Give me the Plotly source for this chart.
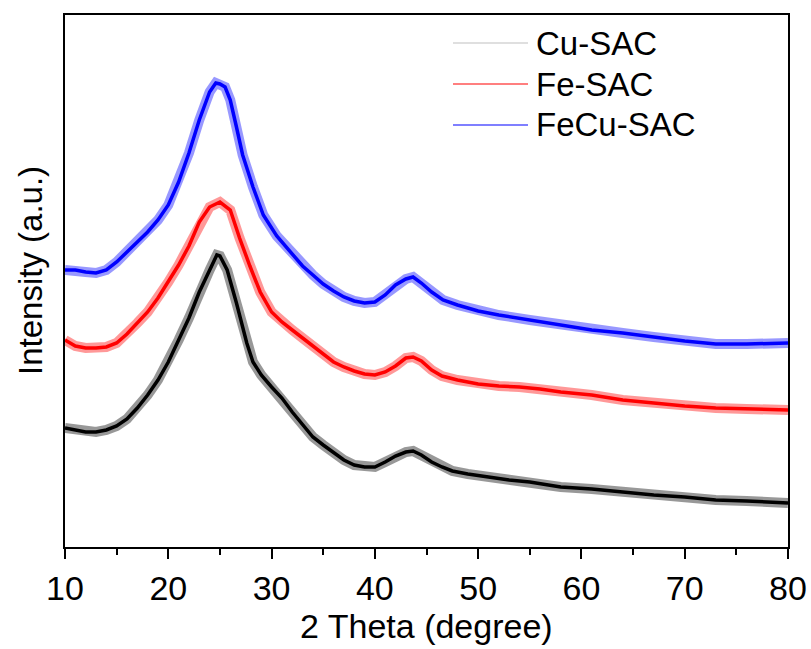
import plotly.graph_objects as go

# ---- data (2θ in degrees, intensity in a.u.) ----
cu_x = [10, 11, 12, 13, 14, 15, 16, 17, 18, 19, 20, 21, 22, 23, 24, 24.7, 25, 25.7, 26.6, 27.6,
        28.2, 29, 30, 31, 32, 33, 34, 35, 36, 37, 38, 39, 40, 41, 42, 43, 43.7, 44.5, 45.5, 46.5,
        47.5, 49, 51, 53, 55, 58, 61, 64, 67, 70, 73, 76, 80]
cu_y = [119, 117, 115, 115, 117, 121, 128, 139, 152, 167, 185, 207, 229, 255, 277, 292, 291, 277, 244, 204,
        185, 172, 160, 149, 135, 122, 110, 102, 94, 87, 82, 80, 80, 85, 91, 95, 96, 92, 85, 80,
        76, 73, 70, 67, 65, 60, 58, 55, 52, 50, 47, 46, 44]

fe_x = [10, 11, 12, 13, 14, 15, 16, 17, 18, 19, 20, 21, 22, 23, 24, 25, 26, 26.9, 27.9, 28.9,
        30, 31, 32, 33, 34, 35, 36, 37, 38, 39, 40, 41, 42, 43, 43.7, 44.5, 45.5, 46.5, 48, 50,
        52, 54, 56, 58, 61, 64, 67, 70, 73, 76, 80]
fe_y = [207, 201, 199, 199, 200, 204, 213, 224, 235, 249, 265, 282, 301, 325, 340, 345, 337, 309, 281, 255,
        235, 225, 217, 209, 200, 192, 185, 180, 176, 173, 172, 175, 181, 189, 190, 186, 177, 171, 167, 163,
        161, 160, 158, 155, 152, 147, 144, 141, 139, 138, 137]

fecu_x = [10, 11, 12, 13, 14, 15, 16, 17, 18, 19, 20, 21, 22, 23, 24, 24.6, 25, 25.5, 26, 26.6,
          27.2, 28.2, 29.2, 30.5, 32, 33, 34, 35, 36, 37, 38, 39, 40, 41, 42, 43, 43.7, 44.5, 45.5, 46.6,
          48, 50, 52, 55, 58, 61, 64, 67, 70, 73, 76, 80]
fecu_y = [277, 277, 275, 274, 277, 285, 295, 305, 315, 327, 342, 365, 394, 427, 455, 464, 463, 460, 447, 420,
          392, 360, 332, 311, 293, 281, 272, 263, 256, 250, 246, 244, 245, 252, 262, 268, 270, 264, 255, 247,
          242, 236, 232, 227, 222, 217, 214, 210, 206, 203, 203, 204]

series_names = ["Cu-SAC", "Fe-SAC", "FeCu-SAC"]
series_colors = ["#000000", "#ff0000", "#0000ff"]
legend_colors = ["#c0c0c0", "#ff0000", "#0000ff"]
x_ticks = [10, 20, 30, 40, 50, 60, 70, 80]
x_minor = [15, 25, 35, 45, 55, 65, 75]

data = [(cu_x, cu_y), (fe_x, fe_y), (fecu_x, fecu_y)]

W, H = 811, 649
L, R, T, B = 65, 788, 15, 547
YMAX = 532

fig = go.Figure()
for (xs, ys), name, col in zip(data, series_names, series_colors):
    # soft band imitating the thickness of the noisy trace
    fig.add_trace(go.Scatter(x=xs, y=ys, mode="lines", name=name, showlegend=False,
                             line=dict(color=col, width=10), opacity=0.4, hoverinfo="skip"))
    fig.add_trace(go.Scatter(x=xs, y=ys, mode="lines", name=name, showlegend=False,
                             line=dict(color=col, width=3.5)))

font = "Arial, Liberation Sans, sans-serif"


def px2paper_x(px):
    return (px - L) / (R - L)


def py2paper_y(py):
    return (B - py) / (B - T)


shapes = []
annotations = []
# manual legend (long thin sample lines as in the reference)
for i, (name, col) in enumerate(zip(series_names, legend_colors)):
    py = 43 + i * 41
    shapes.append(dict(type="line", xref="paper", yref="paper",
                       x0=px2paper_x(453), x1=px2paper_x(528),
                       y0=py2paper_y(py), y1=py2paper_y(py),
                       line=dict(color=col, width=1.2)))
    annotations.append(dict(text=name, xref="paper", yref="paper",
                            x=px2paper_x(534), y=py2paper_y(py),
                            xanchor="left", yanchor="middle", showarrow=False,
                            font=dict(family=font, size=33, color="black")))

# axis titles
annotations.append(dict(text="2 Theta (degree)", xref="paper", yref="paper",
                        x=0.5, y=py2paper_y(626), xanchor="center", yanchor="middle",
                        showarrow=False, font=dict(family=font, size=34, color="black")))
annotations.append(dict(text="Intensity (a.u.)", xref="paper", yref="paper",
                        x=px2paper_x(30), y=py2paper_y(271), xanchor="center", yanchor="middle",
                        textangle=-90, showarrow=False,
                        font=dict(family=font, size=33, color="black")))

fig.update_layout(
    width=W, height=H,
    margin=dict(l=L, r=W - R, t=T, b=H - B, autoexpand=False),
    paper_bgcolor="white", plot_bgcolor="white",
    showlegend=False,
    shapes=shapes, annotations=annotations,
    font=dict(family=font, color="black"),
)
fig.update_xaxes(
    range=[10, 80], tickvals=x_ticks, ticktext=[str(t) for t in x_ticks],
    showgrid=False, zeroline=False, automargin=False,
    showline=True, mirror=True, linecolor="black", linewidth=2,
    ticks="outside", ticklen=10, tickwidth=2, tickcolor="black",
    minor=dict(tickvals=x_minor, ticks="outside", ticklen=6, tickwidth=2, tickcolor="black"),
    tickfont=dict(family=font, size=34, color="black"),
)
fig.update_yaxes(
    range=[0, YMAX], showticklabels=False, ticks="",
    showgrid=False, zeroline=False, automargin=False,
    showline=True, mirror=True, linecolor="black", linewidth=2,
)

fig.write_html("out.html")
